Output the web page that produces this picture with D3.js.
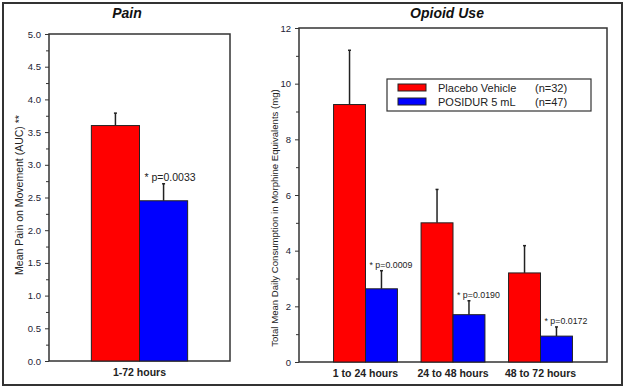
<!DOCTYPE html>
<html>
<head>
<meta charset="utf-8">
<script src="https://cdn.jsdelivr.net/npm/d3@7"></script>
<style>
  body { margin: 0; background: #fff; }
  svg { display: block; font-family: "Liberation Sans", Arial, sans-serif; }
</style>
</head>
<body>
<div id="chartDiv"></div>
<script>
// data
const series = ["Placebo Vehicle", "POSIDUR 5 mL"];
const seriesN = ["(n=32)", "(n=47)"];
const colors = ["#ff0000", "#0000ff"];

const painCats = ["1-72 hours"];
const painMean = [[3.6, 2.45]];
const painErr = [[0.19, 0.26]];
const painP = ["* p=0.0033"];

const opioidCats = ["1 to 24 hours", "24 to 48 hours", "48 to 72 hours"];
const opioidMean = [[9.25, 2.63], [5.0, 1.7], [3.2, 0.93]];
const opioidErr = [[1.95, 0.65], [1.2, 0.5], [0.98, 0.33]];
const opioidP = ["* p=0.0009", "* p=0.0190", "* p=0.0172"];

const W = 625, H = 390;
const svg = d3.select('#chartDiv').append('svg')
    .attr('width', W).attr('height', H);

// outer frame
svg.append('rect')
    .attr('x', 3).attr('y', 3).attr('width', 619).attr('height', 382)
    .attr('fill', 'none').attr('stroke', '#333').attr('stroke-width', 2);

function panel(opt){
    const g = svg.append('g');
    const { x0, x1, y0, y1 } = opt;

    const x = d3.scaleBand().domain(opt.cats).range([x0, x1])
        .paddingInner(opt.padIn).paddingOuter(opt.padOut);
    const xs = d3.scaleBand().domain([0, 1]).range([0, x.bandwidth()]);
    const y = d3.scaleLinear().domain(opt.domain).range([y1, y0]);

    // plot box
    g.append('rect')
        .attr('x', x0).attr('y', y0).attr('width', x1 - x0).attr('height', y1 - y0)
        .attr('fill', '#fff').attr('stroke', '#333').attr('stroke-width', 1.5);

    // y axis with minor ticks
    const yAxis = d3.axisLeft(y).tickValues(opt.ticks).tickFormat(opt.fmt)
        .tickSize(4).tickPadding(4);
    const ag = g.append('g').attr('transform', `translate(${x0},0)`).call(yAxis);
    ag.select('.domain').remove();
    ag.selectAll('line').attr('stroke', '#333');
    ag.selectAll('text').attr('font-size', 9.5).attr('fill', '#223');

    g.append('g').attr('transform', `translate(${x0},0)`)
        .call(d3.axisLeft(y).tickValues(opt.minor).tickSize(3).tickFormat(''))
        .call(a => a.select('.domain').remove())
        .selectAll('line').attr('stroke', '#333');

    // bars
    opt.cats.forEach((c, i) => {
        opt.mean[i].forEach((v, j) => {
            const bx = x(c) + xs(j);
            const cx = bx + xs.bandwidth() / 2;
            // error bar (upper only)
            const top = y(v + opt.err[i][j]);
            g.append('line')
                .attr('x1', cx).attr('x2', cx).attr('y1', y(v)).attr('y2', top)
                .attr('stroke', '#222').attr('stroke-width', 1.5);
            g.append('line')
                .attr('x1', cx - 1.5).attr('x2', cx + 1.5).attr('y1', top).attr('y2', top)
                .attr('stroke', '#222').attr('stroke-width', 1.5);
            g.append('rect')
                .attr('x', bx).attr('y', y(v))
                .attr('width', xs.bandwidth()).attr('height', y(0) - y(v))
                .attr('fill', colors[j]).attr('stroke', '#222').attr('stroke-width', 1);
        });
        // p-value label beside the blue error bar
        const bx = x(c) + xs(1);
        g.append('text')
            .attr('x', bx + opt.pdx).attr('y', y(opt.mean[i][1] + opt.err[i][1]) - opt.pdy)
            .attr('font-size', opt.pSize).attr('fill', '#222')
            .text(opt.p[i]);
        // category label
        g.append('text')
            .attr('x', x(c) + x.bandwidth() / 2).attr('y', y1 + 15)
            .attr('text-anchor', 'middle').attr('font-size', 10.5).attr('font-weight', 'bold')
            .attr('fill', '#222').text(c);
    });

    // title
    g.append('text')
        .attr('x', opt.titleX).attr('y', 18)
        .attr('text-anchor', 'middle').attr('font-size', 14)
        .attr('font-weight', 'bold').attr('font-style', 'italic')
        .attr('fill', '#111').text(opt.title);

    // y label
    g.append('text')
        .attr('transform', `translate(${opt.labX},${opt.labY}) rotate(-90)`)
        .attr('text-anchor', 'middle').attr('font-size', opt.labSize).attr('fill', '#222')
        .text(opt.ylabel);
    return g;
}

panel({
    x0: 49, x1: 230, y0: 34, y1: 361,
    cats: painCats, mean: painMean, err: painErr, p: painP,
    padIn: 0, padOut: 0.44,
    domain: [0, 5],
    ticks: d3.range(0, 5.01, 0.5), minor: d3.range(0.25, 5, 0.5),
    fmt: d3.format('.1f'),
    pdx: 5, pdy: 3, pSize: 10.5,
    title: 'Pain', titleX: 127,
    ylabel: 'Mean Pain on Movement (AUC) **', labX: 23, labY: 195, labSize: 10.5
});

panel({
    x0: 299, x1: 607, y0: 28, y1: 362,
    cats: opioidCats, mean: opioidMean, err: opioidErr, p: opioidP,
    padIn: 0.27, padOut: 0.395,
    domain: [0, 12],
    ticks: d3.range(0, 13, 2), minor: d3.range(1, 12, 2),
    fmt: d3.format('d'),
    pdx: 4, pdy: 3, pSize: 8.8,
    title: 'Opioid Use', titleX: 447,
    ylabel: 'Total Mean Daily Consumption in Morphine Equivalents (mg)', labX: 278, labY: 218, labSize: 9.6
});

// legend
const leg = svg.append('g');
leg.append('rect')
    .attr('x', 387).attr('y', 79).attr('width', 204).attr('height', 32)
    .attr('fill', '#fff').attr('stroke', '#333').attr('stroke-width', 1.2);
series.forEach((s, i) => {
    const ly = 84 + i * 14;
    leg.append('rect')
        .attr('x', 398).attr('y', ly).attr('width', 28).attr('height', 7)
        .attr('fill', colors[i]).attr('stroke', '#222').attr('stroke-width', 1);
    leg.append('text')
        .attr('x', 438).attr('y', ly + 7.5).attr('font-size', 11).attr('fill', '#222')
        .text(s);
    leg.append('text')
        .attr('x', 535).attr('y', ly + 7.5).attr('font-size', 11).attr('fill', '#222')
        .text(seriesN[i]);
});
</script>
</body>
</html>
